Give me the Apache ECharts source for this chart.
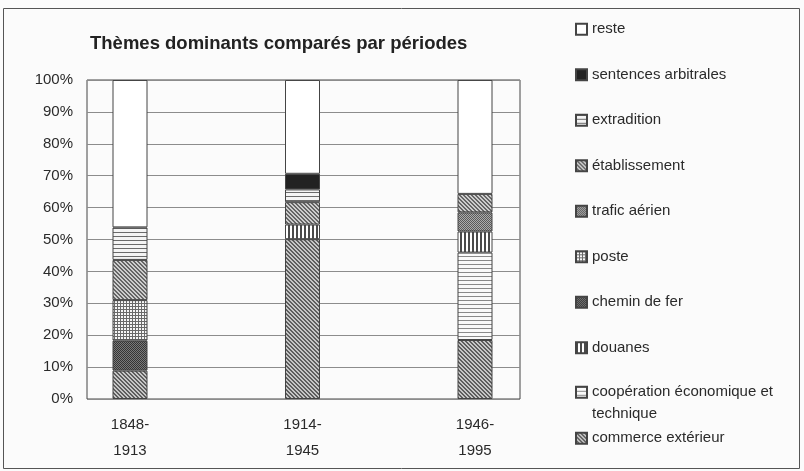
<!DOCTYPE html>
<html>
<head>
<meta charset="utf-8">
<script src="https://cdn.jsdelivr.net/npm/echarts@6/dist/echarts.min.js"></script>
<style>
  html, body { margin: 0; padding: 0; background: #fbfbfb; }
  #chart { width: 804px; height: 471px; }
</style>
</head>
<body>
<div id="chart"></div>
<script>
// periods (x categories)
const periods = ['1848-\n1913', '1914-\n1945', '1946-\n1995'];

// shares in % per theme (bottom of stack first)
const commerceExterieur = [8.9, 50.1, 18.5];
const cooperation = [0, 0, 27.4];
const douanes = [0, 4.6, 6.6];
const cheminDeFer = [9.4, 0, 0];
const poste = [12.7, 0, 0];
const traficAerien = [0, 0, 6.0];
const etablissement = [12.6, 7.0, 5.8];
const extradition = [10.2, 4.0, 0];
const sentencesArbitrales = [0, 4.9, 0];
const reste = [46.2, 29.4, 35.7];

const yTicks = [0, 10, 20, 30, 40, 50, 60, 70, 80, 90, 100];

// small canvas tiles for the grey print patterns
function tile(w, h, draw) {
  const c = document.createElement('canvas');
  c.width = w; c.height = h;
  const ctx = c.getContext('2d');
  draw(ctx, w, h);
  return { image: c, repeat: 'repeat' };
}
function px(ctx, x, y, col) { ctx.fillStyle = col; ctx.fillRect(x, y, 1, 1); }

const pat = {
  diagA: tile(4, 4, (ctx) => {
    for (let y = 0; y < 4; y++) for (let x = 0; x < 4; x++) {
      const d = (x - y + 8) % 4;
      px(ctx, x, y, d < 2 ? '#5e5e5e' : '#c6c6c6');
    }
  }),
  diagB: tile(4, 4, (ctx) => {
    for (let y = 0; y < 4; y++) for (let x = 0; x < 4; x++) {
      const d = (x - y + 8) % 4;
      px(ctx, x, y, d < 2 ? '#666' : '#cdcdcd');
    }
  }),
  hLinesA: tile(1, 4, (ctx) => {
    ctx.fillStyle = '#f4f4f4'; ctx.fillRect(0, 0, 1, 4);
    ctx.fillStyle = '#6a6a6a'; ctx.fillRect(0, 0, 1, 1);
  }),
  hLinesB: tile(1, 4, (ctx) => {
    ctx.fillStyle = '#fafafa'; ctx.fillRect(0, 0, 1, 4);
    ctx.fillStyle = '#8a8a8a'; ctx.fillRect(0, 0, 1, 1);
  }),
  vLines: tile(4, 1, (ctx) => {
    ctx.fillStyle = '#fff'; ctx.fillRect(0, 0, 4, 1);
    ctx.fillStyle = '#4a4a4a'; ctx.fillRect(0, 0, 2, 1);
  }),
  grid: tile(3, 3, (ctx) => {
    ctx.fillStyle = '#f6f6f6'; ctx.fillRect(0, 0, 3, 3);
    ctx.fillStyle = '#6a6a6a'; ctx.fillRect(0, 0, 3, 1); ctx.fillRect(0, 0, 1, 3);
  }),
  darkDots: tile(2, 2, (ctx) => {
    px(ctx, 0, 0, '#353535'); px(ctx, 1, 1, '#353535');
    px(ctx, 1, 0, '#7a7a7a'); px(ctx, 0, 1, '#7a7a7a');
  }),
  lightDots: tile(2, 2, (ctx) => {
    px(ctx, 0, 0, '#5a5a5a'); px(ctx, 1, 1, '#5a5a5a');
    px(ctx, 1, 0, '#acacac'); px(ctx, 0, 1, '#acacac');
  })
};

const themes = [
  { name: 'commerce extérieur', data: commerceExterieur, fill: pat.diagA },
  { name: 'coopération économique et\ntechnique', data: cooperation, fill: pat.hLinesB },
  { name: 'douanes', data: douanes, fill: pat.vLines },
  { name: 'chemin de fer', data: cheminDeFer, fill: pat.darkDots },
  { name: 'poste', data: poste, fill: pat.grid },
  { name: 'trafic aérien', data: traficAerien, fill: pat.lightDots },
  { name: 'établissement', data: etablissement, fill: pat.diagB },
  { name: 'extradition', data: extradition, fill: pat.hLinesA },
  { name: 'sentences arbitrales', data: sentencesArbitrales, fill: '#222' },
  { name: 'reste', data: reste, fill: '#ffffff' }
];

const font = 'Liberation Sans, Arial, sans-serif';
const chart = echarts.init(document.getElementById('chart'), null, { renderer: 'canvas' });

const series = themes.map((t) => ({
  name: t.name,
  type: 'bar',
  stack: 'total',
  xAxisIndex: 1,
  yAxisIndex: 1,
  barWidth: 35,
  // empty segments are left out so they don't draw an extra border line
  data: t.data.map((v) => (v === 0 ? '-' : v)),
  itemStyle: { color: t.fill, borderColor: '#444', borderWidth: 1 },
  emphasis: { disabled: true }
}));

const legendText = { fontFamily: font, fontSize: 15, color: '#2a2a2a', lineHeight: 20 };
const legendBase = {
  orient: 'vertical',
  left: 575,
  padding: 0,
  icon: 'rect',
  itemWidth: 11,
  itemHeight: 11,
  itemGap: 25.5,
  selectedMode: false,
  textStyle: legendText
};
const legendNames = themes.map((t) => t.name).reverse();

chart.setOption({
  backgroundColor: '#fbfbfb',
  animation: false,
  title: {
    text: 'Thèmes dominants comparés par périodes',
    left: 90,
    top: 34,
    padding: 0,
    textStyle: { fontFamily: font, fontSize: 18.5, fontWeight: 'bold', color: '#222', lineHeight: 20 }
  },
  legend: [
    Object.assign({}, legendBase, { top: 19.3, data: legendNames.slice(0, 8) }),
    Object.assign({}, legendBase, {
      top: 359.3,
      data: legendNames.slice(8, 9),
      // empty first line keeps the icon level with "coopération…"
      formatter: (name) => '\n' + name,
      textStyle: Object.assign({}, legendText, { lineHeight: 22 })
    }),
    Object.assign({}, legendBase, { top: 428.3, data: legendNames.slice(9) })
  ],
  graphic: [{
    type: 'rect',
    shape: { x: 3.5, y: 8.5, width: 796, height: 460 },
    style: { fill: 'none', stroke: '#555', lineWidth: 1 },
    silent: true
  }],
  grid: [
    { left: 87, top: 80, width: 433, height: 319, show: true, borderColor: '#444', borderWidth: 1, backgroundColor: 'transparent' },
    { left: 43.75, top: 80, width: 517.5, height: 319 }
  ],
  xAxis: [
    { type: 'value', gridIndex: 0, min: 0, max: 1, show: false },
    {
      type: 'category', gridIndex: 1, data: periods,
      axisLine: { show: false }, axisTick: { show: false },
      axisLabel: { fontFamily: font, fontSize: 15, color: '#2a2a2a', lineHeight: 26, margin: 13 }
    }
  ],
  yAxis: [
    {
      type: 'value', gridIndex: 0, min: yTicks[0], max: yTicks[yTicks.length - 1], interval: 10,
      axisLine: { show: false }, axisTick: { show: false },
      axisLabel: { fontFamily: font, fontSize: 15, color: '#2a2a2a', margin: 14, formatter: '{value}%' },
      splitLine: { lineStyle: { color: '#8c8c8c', width: 1 } }
    },
    { type: 'value', gridIndex: 1, min: 0, max: 100, show: false }
  ],
  series: series
});
</script>
</body>
</html>
